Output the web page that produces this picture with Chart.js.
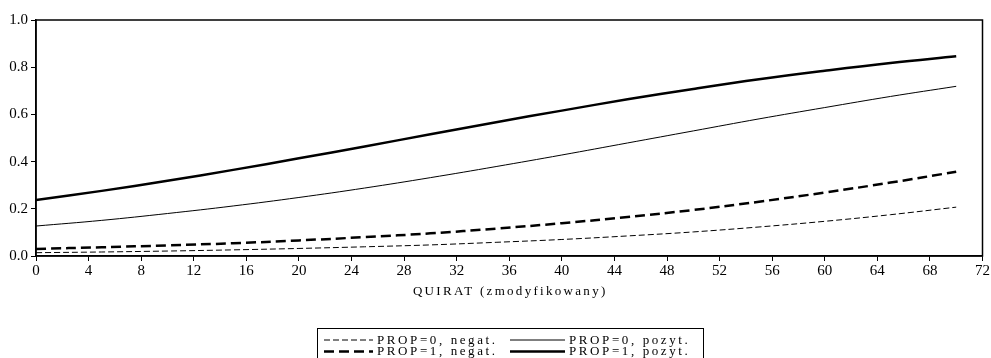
<!doctype html>
<html lang="en">
<head>
<meta charset="utf-8">
<title>QUIRAT</title>
<script src="https://cdn.jsdelivr.net/npm/chart.js"></script>
<style>
  body { margin: 0; background: #fff; }
</style>
</head>
<body>
<canvas id="quiratChart" width="991" height="358"></canvas>
<script>
// values
const quirat = [0, 5, 10, 15, 20, 25, 30, 35, 40, 45, 50, 55, 60, 65, 70];
const prop0Negat = [0.014, 0.017, 0.021, 0.026, 0.032, 0.039, 0.047, 0.058, 0.070, 0.085, 0.102, 0.123, 0.147, 0.175, 0.207];
const prop0Pozyt = [0.127, 0.151, 0.180, 0.212, 0.248, 0.288, 0.332, 0.379, 0.428, 0.479, 0.530, 0.581, 0.629, 0.676, 0.719];
const prop1Negat = [0.030, 0.037, 0.045, 0.054, 0.066, 0.080, 0.096, 0.116, 0.139, 0.165, 0.195, 0.230, 0.269, 0.311, 0.357];
const prop1Pozyt = [0.237, 0.276, 0.319, 0.365, 0.414, 0.464, 0.516, 0.567, 0.616, 0.664, 0.708, 0.749, 0.785, 0.818, 0.846];
const seriesLabels = ['PROP=0, negat.', 'PROP=0, pozyt.', 'PROP=1, negat.', 'PROP=1, pozyt.'];
const xTitle = 'QUIRAT (zmodyfikowany)';

Chart.defaults.font.family = '"Liberation Serif", "Times New Roman", serif';
Chart.defaults.font.size = 15;
Chart.defaults.color = '#000';

function toPoints(vals) {
  return vals.map((v, i) => ({ x: quirat[i], y: v }));
}

const styles = [
  { width: 1, dash: [6, 3] },
  { width: 1, dash: [] },
  { width: 2.5, dash: [10, 5] },
  { width: 2.5, dash: [] }
];
const series = [prop0Negat, prop0Pozyt, prop1Negat, prop1Pozyt];

// frame, axis title and the boxed legend under the chart
const framePlugin = {
  id: 'frame',
  afterDraw(chart) {
    const ctx = chart.ctx;
    const a = chart.chartArea;
    ctx.save();
    ctx.strokeStyle = '#000';
    ctx.lineWidth = 1.5;
    ctx.strokeRect(a.left, a.top, a.right - a.left, a.bottom - a.top);

    ctx.fillStyle = '#000';
    ctx.font = '13px "Liberation Serif", serif';
    ctx.letterSpacing = '2.3px';
    ctx.textBaseline = 'middle';
    ctx.textAlign = 'center';
    ctx.fillText(xTitle, (a.left + a.right) / 2 + 1, 292);

    // legend box
    ctx.lineWidth = 1;
    ctx.strokeRect(317.5, 328.5, 386, 40);
    ctx.letterSpacing = '2.6px';
    ctx.textAlign = 'left';
    const cols = [[324, 377], [510, 569]];
    const rows = [340, 351.5];
    seriesLabels.forEach((lbl, i) => {
      const c = cols[i % 2];
      const y = rows[Math.floor(i / 2)];
      ctx.save();
      ctx.lineWidth = styles[i].width;
      ctx.setLineDash(styles[i].dash);
      ctx.beginPath();
      ctx.moveTo(c[0], y);
      ctx.lineTo(c[1] - 4, y);
      ctx.stroke();
      ctx.restore();
      ctx.fillText(lbl, c[1], y + 0.5);
    });
    ctx.restore();
  }
};

const ctx = document.getElementById('quiratChart').getContext('2d');
new Chart(ctx, {
  type: 'line',
  data: {
    datasets: series.map((vals, i) => ({
      label: seriesLabels[i],
      data: toPoints(vals),
      borderColor: '#000',
      borderWidth: styles[i].width,
      borderDash: styles[i].dash,
      pointRadius: 0,
      tension: 0.4,
      fill: false
    }))
  },
  options: {
    responsive: false,
    animation: false,
    layout: { padding: { top: 20, right: 6, left: 0, bottom: 0 } },
    plugins: { legend: { display: false }, tooltip: { enabled: false } },
    scales: {
      x: {
        type: 'linear',
        min: 0,
        max: 72,
        afterFit(scale) { scale.height = 102; },
        ticks: { stepSize: 4, padding: 1, maxRotation: 0, autoSkip: false },
        grid: { drawOnChartArea: false, tickLength: 5, color: '#000' },
        border: { color: '#000', width: 1.5 }
      },
      y: {
        min: 0,
        max: 1,
        afterFit(scale) { scale.width = 36; },
        ticks: { stepSize: 0.2, padding: 3, callback: v => v.toFixed(1) },
        grid: { drawOnChartArea: false, tickLength: 5, color: '#000' },
        border: { color: '#000', width: 1.5 }
      }
    }
  },
  plugins: [framePlugin]
});
</script>
</body>
</html>
